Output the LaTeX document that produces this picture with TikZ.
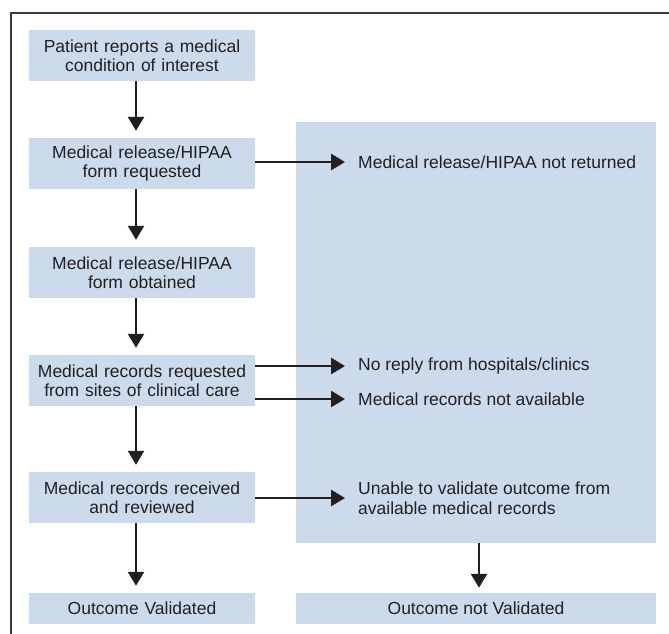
\documentclass[tikz,border=0pt]{standalone}
\usepackage{fontspec}
\setmainfont{Liberation Sans}
\usepackage{tikz}
\usetikzlibrary{arrows.meta, positioning, calc}
\definecolor{boxBlue}{HTML}{CCDBEC}
\definecolor{inkGray}{HTML}{231F20}
\definecolor{frameGray}{HTML}{3A3A3A}

\begin{document}
\begin{tikzpicture}[x=1pt, y=-1pt,
    every node/.style={font=\fontsize{17.5}{19.5}\selectfont, text=inkGray},
    step box/.style={fill=boxBlue, align=center, text width=226pt, minimum height=51pt, inner sep=0pt},
    miss label/.style={anchor=west, align=left, inner sep=0pt},
    arr/.style={draw=inkGray, line width=2.6pt, -{Triangle[length=14pt, width=16pt]}}]
    \useasboundingbox (0,0) rectangle (669,634);
    % frame
    \draw[frameGray, line width=1.5pt] (11,634) -- (11,13) -- (669,13);
    % left column
    \foreach \t/\y [count=\i from 1] in {{Patient reports a medical\\condition of interest}/55.5,
        {Medical release/HIPAA\\form requested}/163.5,
        {Medical release/HIPAA\\form obtained}/272.5,
        {Medical records requested\\from sites of clinical care}/380.5,
        {Medical records received\\and reviewed}/497.5} {
      \node[step box] (b\i) at (142,\y) {\t};
    }
    \node[step box, minimum height=31pt] (b6) at (142,608.5) {Outcome Validated};
    \foreach \i/\j in {1/2,2/3,3/4,4/5,5/6} {
      \draw[arr, shorten >=7pt] ([xshift=-6pt]b\i.south) -- ([xshift=-6pt]b\j.north);
    }
    % right column
    \node[fill=boxBlue, minimum width=360pt, minimum height=421pt, inner sep=0pt] (miss) at (476,332.5) {};
    \node[fill=boxBlue, minimum width=360pt, minimum height=31pt, inner sep=0pt] (nv) at (476,608.5) {Outcome not Validated};
    \draw[arr, shorten >=5pt] ([xshift=3pt]miss.south) -- ([xshift=3pt]nv.north);
    % reasons
    \node[miss label] (r1) at (358,162) {Medical release/HIPAA not returned};
    \node[miss label] (r2) at (358,366) {No reply from hospitals/clinics};
    \node[miss label] (r3) at (358,399) {Medical records not available};
    \node[miss label] (r4) at (358,498) {Unable to validate outcome from\\available medical records};
    \draw[arr, shorten >=13pt] (b2.east |- r1.west) -- (r1.west);
    \draw[arr, shorten >=13pt] (b4.east |- r2.west) -- (r2.west);
    \draw[arr, shorten >=13pt] (b4.east |- r3.west) -- (r3.west);
    \draw[arr, shorten >=13pt] (b5.east |- r4.west) -- (r4.west);
  \end{tikzpicture}
\end{document}
